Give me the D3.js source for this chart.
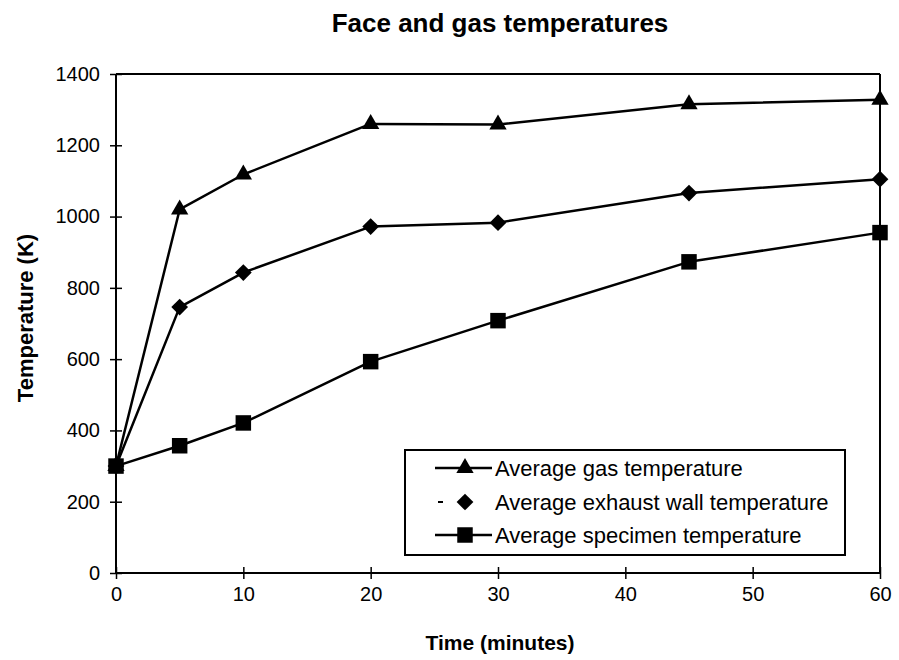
<!DOCTYPE html>
<html>
<head>
<meta charset="utf-8">
<script src="https://cdn.jsdelivr.net/npm/d3@7"></script>
<style>
  html, body { margin: 0; padding: 0; background: #fff; }
  text { font-family: Arial, "Liberation Sans", Helvetica, sans-serif; fill: #000; }
</style>
</head>
<body>
<svg id="chart" width="899" height="660"></svg>
<script>
const times = [0, 5, 10, 20, 30, 45, 60];
const gasTemp = [300, 1020, 1118, 1260, 1258, 1315, 1328];
const wallTemp = [300, 746, 843, 972, 983, 1066, 1105];
const specimenTemp = [300, 357, 421, 593, 708, 873, 955];
const seriesNames = ["Average gas temperature", "Average exhaust wall temperature", "Average specimen temperature"];
const xTicks = [0, 10, 20, 30, 40, 50, 60];
const yTicks = [0, 200, 400, 600, 800, 1000, 1200, 1400];
const titleText = "Face and gas temperatures";
const xTitle = "Time (minutes)";
const yTitle = "Temperature (K)";

(function () {
const svg = d3.select("#chart");
const pL = 116, pR = 880, pT = 74, pB = 573;
const x = d3.scaleLinear().domain([0, 60]).range([pL, pR]);
const y = d3.scaleLinear().domain([0, 1400]).range([pB, pT]);

// Title
svg.append("text").attr("x", 500).attr("y", 32).attr("text-anchor", "middle")
  .style("font-weight", "bold").style("font-size", "26px").text(titleText);

// Frame top/right
svg.append("line").attr("x1", pL).attr("x2", pR).attr("y1", pT).attr("y2", pT)
  .attr("stroke", "#000").attr("stroke-width", 2);
svg.append("line").attr("x1", pR).attr("x2", pR).attr("y1", pT).attr("y2", pB)
  .attr("stroke", "#000").attr("stroke-width", 2);

// Axes
const yAxis = d3.axisLeft(y).tickValues(yTicks).tickSize(6).tickPadding(10).tickFormat(d3.format("d"));
const gy = svg.append("g").attr("transform", `translate(${pL},0)`).call(yAxis);
gy.select(".domain").attr("stroke-width", 2).attr("d", `M0,${pT}V${pB}`);
gy.selectAll(".tick line").attr("x1", 6).attr("stroke-width", 1.5);
gy.selectAll(".tick text").style("font-size", "20px").style("font-family", "Arial, 'Liberation Sans', sans-serif");

const xAxis = d3.axisBottom(x).tickValues(xTicks).tickSize(6).tickPadding(8).tickFormat(d3.format("d"));
const gx = svg.append("g").attr("transform", `translate(0,${pB})`).call(xAxis);
gx.select(".domain").attr("stroke-width", 2).attr("d", `M${pL},0H${pR}`);
gx.selectAll(".tick line").attr("y1", -6).attr("stroke-width", 1.5);
gx.selectAll(".tick text").style("font-size", "20px").style("font-family", "Arial, 'Liberation Sans', sans-serif");

// Axis titles
svg.append("text").attr("x", 500).attr("y", 650).attr("text-anchor", "middle")
  .style("font-weight", "bold").style("font-size", "21px").text(xTitle);
svg.append("text").attr("transform", `translate(33,318) rotate(-90)`).attr("text-anchor", "middle")
  .style("font-weight", "bold").style("font-size", "22px").text(yTitle);

// Series
const series = [
  { name: seriesNames[0], values: gasTemp, symbol: d3.symbolTriangle, size: 130, rot: 0 },
  { name: seriesNames[1], values: wallTemp, symbol: d3.symbolSquare, size: 140, rot: 45 },
  { name: seriesNames[2], values: specimenTemp, symbol: d3.symbolSquare, size: 240, rot: 0 }
];
const line = d3.line().x((d, i) => x(times[i])).y(d => y(d));

series.forEach(s => {
  svg.append("path").datum(s.values).attr("d", line)
    .attr("fill", "none").attr("stroke", "#000").attr("stroke-width", 2.5).attr("stroke-linejoin", "round");
  svg.append("g").selectAll("path").data(s.values).join("path")
    .attr("d", d3.symbol().type(s.symbol).size(s.size))
    .attr("transform", (d, i) => `translate(${x(times[i])},${y(d)}) rotate(${s.rot})`)
    .attr("fill", "#000");
});

// Legend
const lg = svg.append("g");
lg.append("rect").attr("x", 405).attr("y", 450).attr("width", 440).attr("height", 105)
  .attr("fill", "#fff").attr("stroke", "#000").attr("stroke-width", 2);
const rowY = [468, 502, 535];
series.forEach((s, i) => {
  const cy = rowY[i];
  if (i === 1) {
    lg.append("line").attr("x1", 438).attr("x2", 443).attr("y1", cy).attr("y2", cy)
      .attr("stroke", "#000").attr("stroke-width", 2);
  } else {
    lg.append("line").attr("x1", 435).attr("x2", 492).attr("y1", cy).attr("y2", cy)
      .attr("stroke", "#000").attr("stroke-width", 2.5);
  }
  lg.append("path").attr("d", d3.symbol().type(s.symbol).size(s.size))
    .attr("transform", `translate(465,${cy}) rotate(${s.rot})`).attr("fill", "#000");
  lg.append("text").attr("x", 495).attr("y", cy).attr("dy", "0.36em")
    .style("font-size", "22px").text(s.name);
});
})();
</script>
</body>
</html>
